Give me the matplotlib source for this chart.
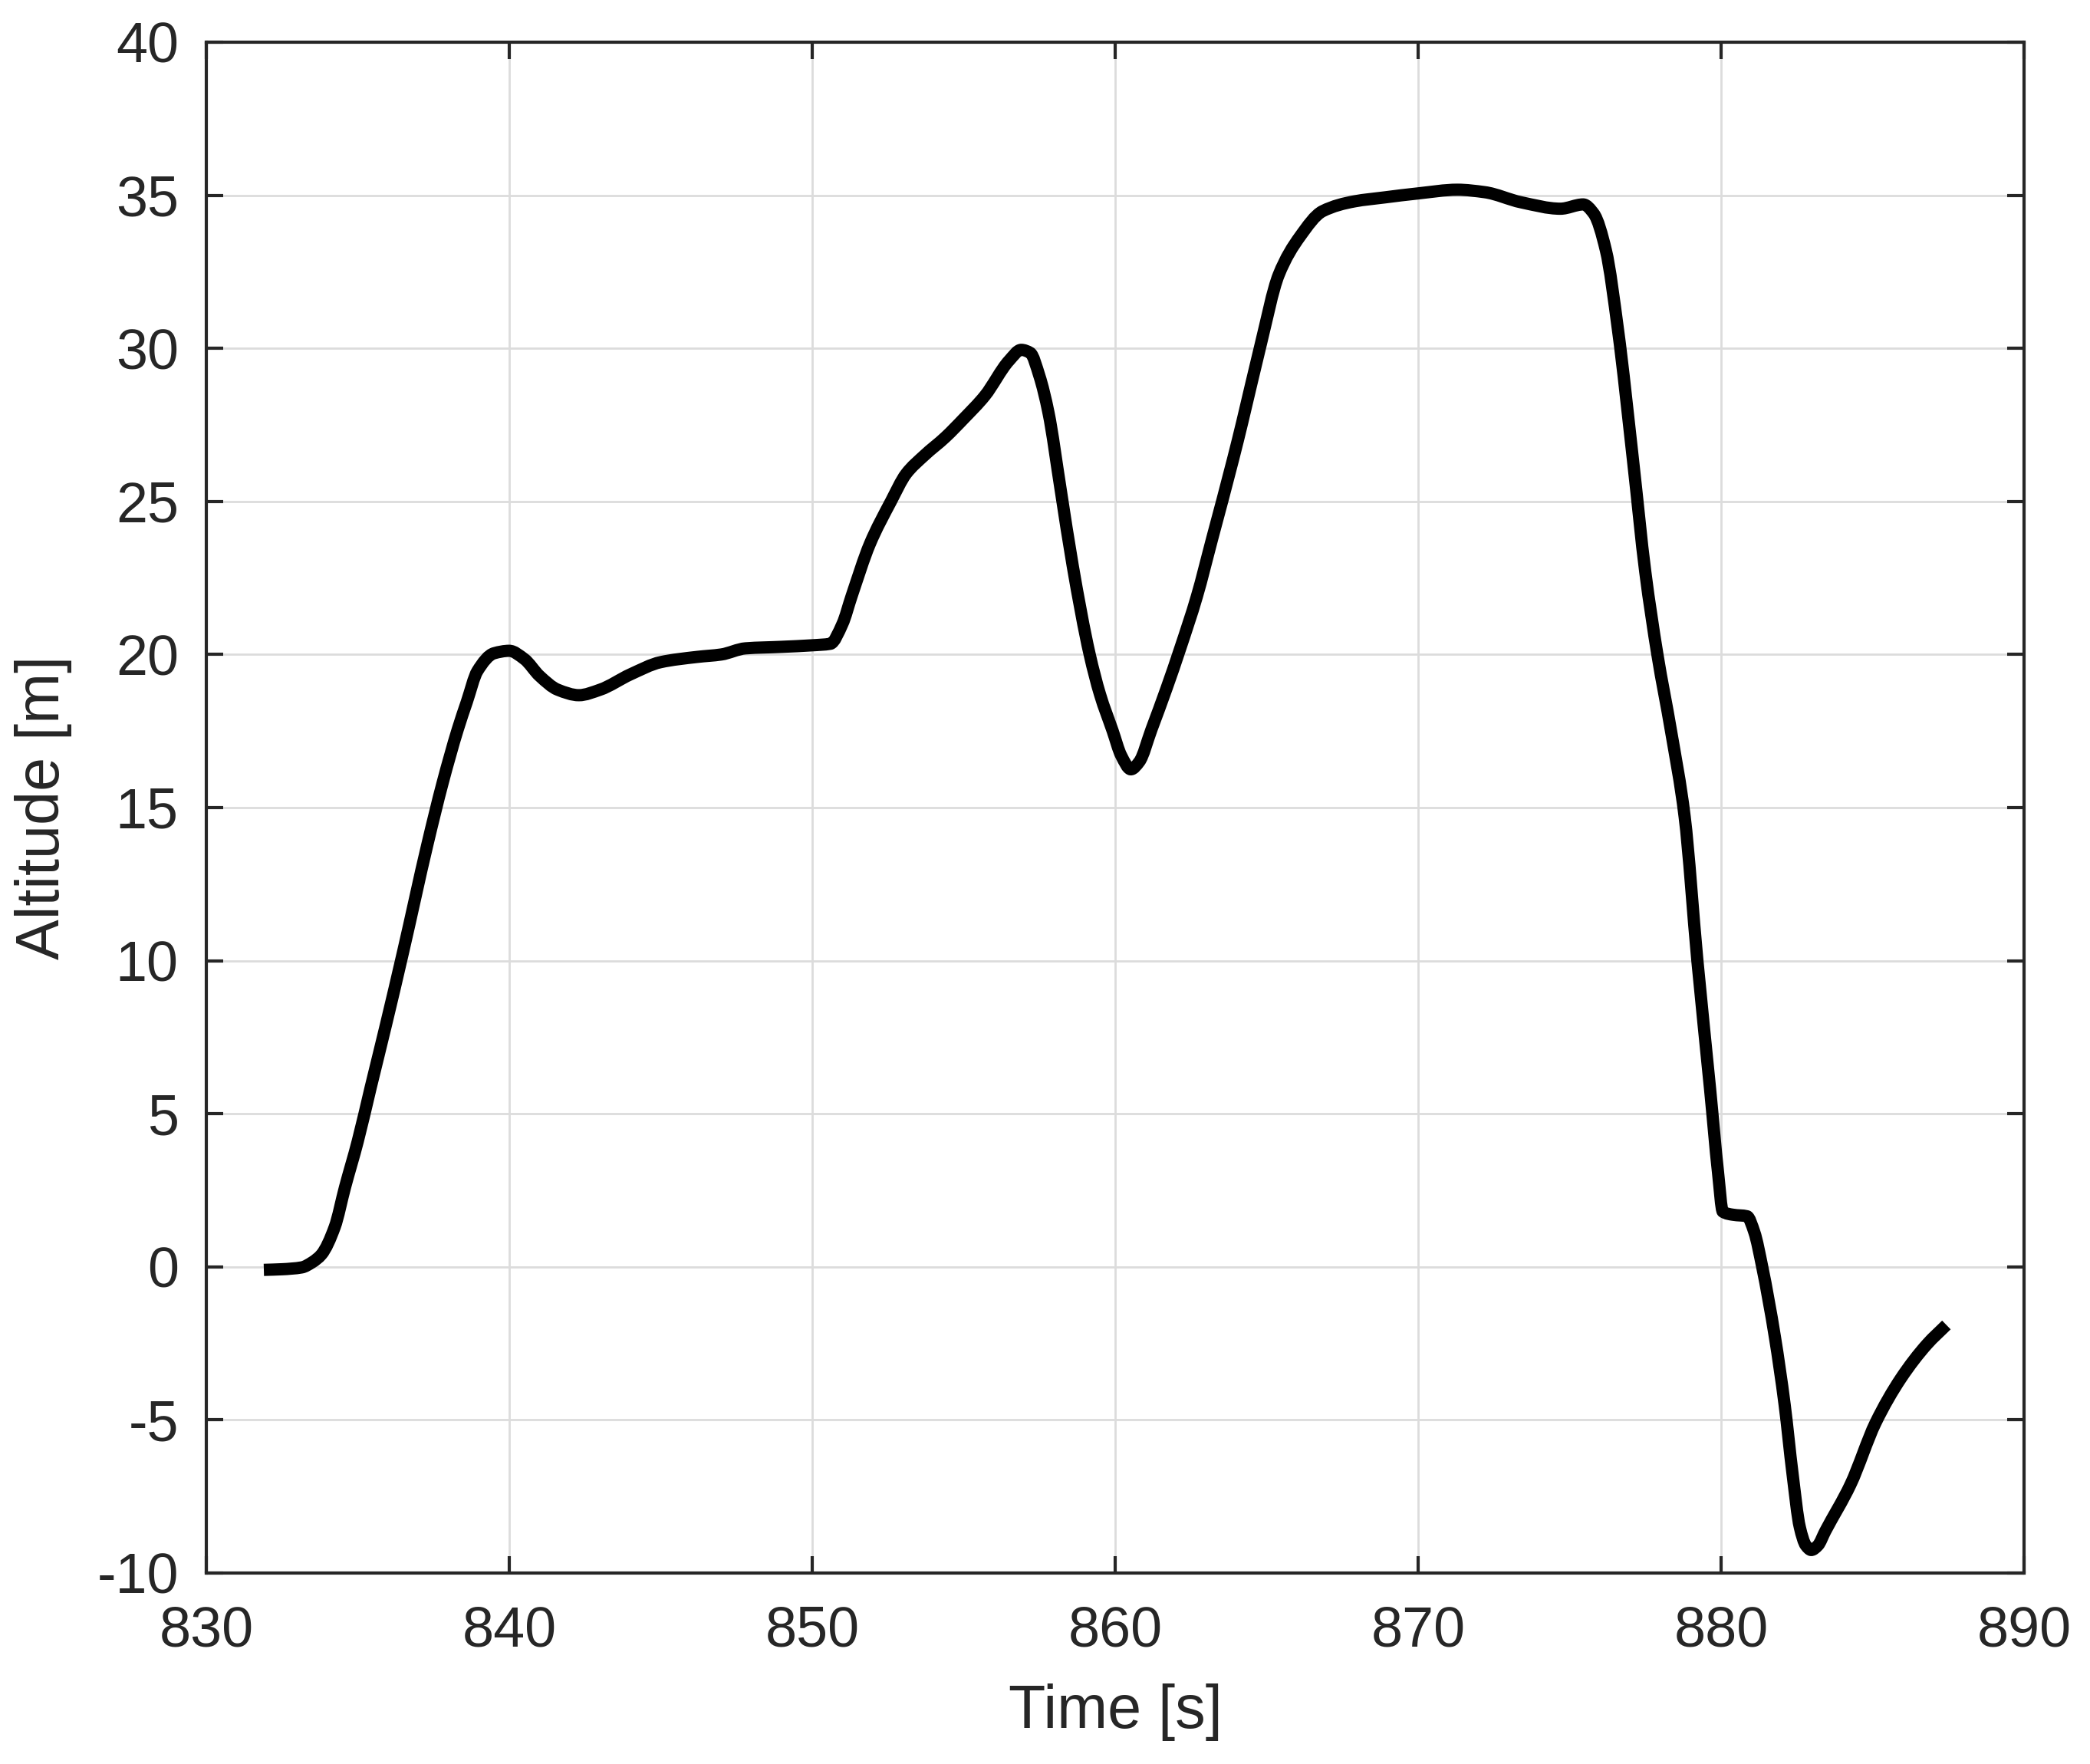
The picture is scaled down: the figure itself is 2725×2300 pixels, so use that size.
import matplotlib
matplotlib.use("Agg")
import matplotlib.pyplot as plt
from matplotlib.path import Path
from matplotlib.patches import PathPatch
import numpy as np

time_s = [831.9, 832.5, 833.15, 833.5, 833.8, 834.24, 834.58, 835.0, 835.43, 835.93,
          836.5, 837.3, 837.8, 838.3, 838.6, 838.95, 839.5, 840.0, 840.5, 841.0,
          841.6, 842.3, 843.0, 844.0, 845.0, 846.2, 847.0, 847.8, 849.0, 850.0,
          850.6, 851.0, 851.3, 851.9, 852.6, 853.1, 853.7, 854.4, 855.0, 855.7,
          856.5, 856.9, 857.2, 857.5, 857.8, 858.2, 858.6, 859.16, 859.5, 859.92,
          860.2, 860.52, 860.8, 861.2, 861.7, 862.15, 862.7, 863.2, 863.9, 864.2,
          864.8, 865.4, 866.1, 866.85, 867.9, 868.9, 870.0, 871.3, 872.2, 873.4,
          874.7, 875.45, 875.8, 876.2, 876.6, 877.1, 877.5, 877.9, 878.35, 878.8,
          879.22, 879.64, 879.9, 880.06, 880.4, 880.86, 881.1, 881.36, 881.78, 882.1,
          882.36, 882.6, 882.8, 882.98, 883.2, 883.44, 884.28, 885.1, 885.94, 886.8,
          887.44]
altitude_m = [-0.1, -0.08, -0.02, 0.15, 0.4, 1.3, 2.6, 4.1, 5.87, 7.9,
              10.3, 13.8, 15.8, 17.55, 18.45, 19.46, 20.04, 20.12, 19.85, 19.3,
              18.85, 18.67, 18.85, 19.35, 19.75, 19.92, 20.0, 20.2, 20.25, 20.3,
              20.35, 21.0, 21.9, 23.6, 25.0, 25.9, 26.5, 27.1, 27.7, 28.45,
              29.6, 29.95, 29.85, 29.1, 27.9, 25.4, 22.9, 20.0, 18.7, 17.5,
              16.7, 16.25, 16.5, 17.55, 18.9, 20.2, 21.9, 23.77, 26.4, 27.6,
              30.1, 32.4, 33.65, 34.48, 34.8, 34.93, 35.06, 35.18, 35.1, 34.77,
              34.56, 34.7, 34.4, 33.2, 30.6, 26.3, 22.7, 20.0, 17.5, 14.7,
              10.0, 5.8, 3.1, 1.8, 1.7, 1.65, 1.13, 0.0, -2.3, -4.5,
              -6.75, -8.5, -9.1, -9.25, -9.1, -8.64, -7.1, -5.1, -3.64, -2.53,
              -1.9]

x_ticks = [830, 840, 850, 860, 870, 880, 890]
y_ticks = [-10, -5, 0, 5, 10, 15, 20, 25, 30, 35, 40]
x_label = "Time [s]"
y_label = "Altitude [m]"

plt.rcParams['font.family'] = ['Liberation Sans', 'DejaVu Sans']
axis_color = '#262626'


def smooth_path(xs, ys):
    """Piecewise cubic (shape-preserving) Bezier path through the read points."""
    x = np.asarray(xs, float)
    y = np.asarray(ys, float)
    h = np.diff(x)
    d = np.diff(y) / h
    n = len(x)
    m = np.zeros(n)
    for k in range(1, n - 1):
        if d[k - 1] * d[k] > 0:
            w1 = 2 * h[k] + h[k - 1]
            w2 = h[k] + 2 * h[k - 1]
            m[k] = (w1 + w2) / (w1 / d[k - 1] + w2 / d[k])
    m[0] = d[0]
    m[-1] = d[-1]
    verts = [(x[0], y[0])]
    codes = [Path.MOVETO]
    for k in range(n - 1):
        verts += [(x[k] + h[k] / 3, y[k] + m[k] * h[k] / 3),
                  (x[k + 1] - h[k] / 3, y[k + 1] - m[k + 1] * h[k] / 3),
                  (x[k + 1], y[k + 1])]
        codes += [Path.CURVE4] * 3
    return Path(verts, codes)


fig = plt.figure(figsize=(27.25, 23), dpi=100)
ax = fig.add_axes([0.0987, 0.1083, 0.9684 - 0.0987, 0.9761 - 0.1083])

patch = PathPatch(smooth_path(time_s, altitude_m), facecolor='none',
                  edgecolor='black', linewidth=11.5, joinstyle='round',
                  capstyle='butt', zorder=3, transform=ax.transData)
ax.add_patch(patch)

ax.set_xlim(830, 890)
ax.set_ylim(-10, 40)
ax.set_xticks(x_ticks)
ax.set_yticks(y_ticks)
ax.set_xticklabels([str(v) for v in x_ticks])
ax.set_yticklabels([str(v) for v in y_ticks])

ax.grid(True, color='#dcdcdc', linewidth=2.0, zorder=0)
ax.set_axisbelow(True)

for s in ax.spines.values():
    s.set_color(axis_color)
    s.set_linewidth(3.0)

ax.tick_params(axis='both', which='major', direction='in', length=16, width=3.0,
               color=axis_color, labelcolor=axis_color, labelsize=53,
               top=True, right=True)
ax.tick_params(axis='x', pad=30)
ax.tick_params(axis='y', pad=26)

ax.set_xlabel(x_label, fontsize=57, color=axis_color)
ax.set_ylabel(y_label, fontsize=57, color=axis_color)
ax.xaxis.set_label_coords(0.5, -0.072)
ax.yaxis.set_label_coords(-0.074, 0.5)

fig.savefig("out.png", dpi=100, facecolor='white')
